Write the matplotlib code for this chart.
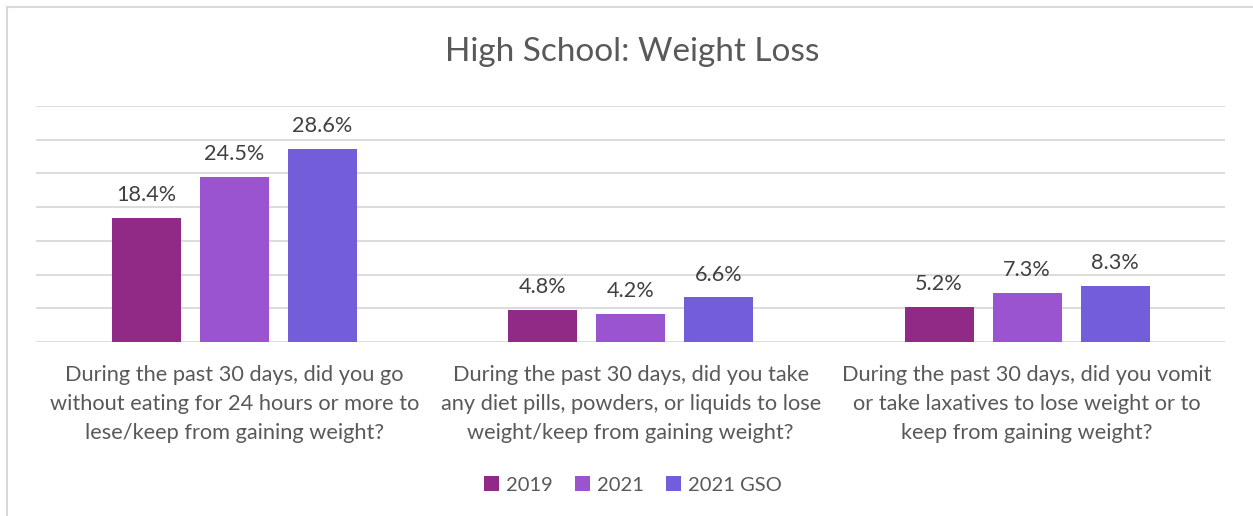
import numpy as np
import matplotlib.pyplot as plt
from matplotlib.patches import Rectangle

categories = [
    "During the past 30 days, did you go\nwithout eating for 24 hours or more to\nlese/keep from gaining weight?",
    "During the past 30 days, did you take\nany diet pills, powders, or liquids to lose\nweight/keep from gaining weight?",
    "During the past 30 days, did you vomit\nor take laxatives to lose weight or to\nkeep from gaining weight?",
]
series = ["2019", "2021", "2021 GSO"]
v2019 = [18.4, 4.8, 5.2]
v2021 = [24.5, 4.2, 7.3]
v2021_gso = [28.6, 6.6, 8.3]
values = [v2019, v2021, v2021_gso]
colors = ["#912987", "#9B54CF", "#745DD9"]

plt.rcParams['font.family'] = ['Lato', 'DejaVu Sans']
text_color = "#595959"

fig = plt.figure(figsize=(12.53, 5.16), dpi=100)
ax = fig.add_axes([0.0287, 0.3372, 0.9493, 0.4574])

x = np.arange(len(categories))
width = 0.174
step = 0.222
for i, (name, vals, c) in enumerate(zip(series, values, colors)):
    pos = x + (i - 1) * step
    bars = ax.bar(pos, vals, width, color=c, label=name, zorder=3)
    for b, v in zip(bars, vals):
        ax.text(b.get_x() + b.get_width() / 2, v + 1.9, f"{v}%",
                ha="center", va="bottom", fontsize=15.6, color="#404040")

ax.set_xlim(-0.5, 2.5)
ax.set_ylim(0, 35)
ax.set_yticks(np.arange(0, 36, 5))
ax.yaxis.grid(True, color="#d9d9d9", linewidth=1.3, zorder=0)
ax.tick_params(axis="y", left=False, labelleft=False)
ax.tick_params(axis="x", bottom=False, pad=13)
ax.set_xticks(x)
ax.set_xticklabels(categories, fontsize=15.7, color=text_color, linespacing=1.55)
for s in ax.spines.values():
    s.set_visible(False)

fig.text(0.5045, 0.9, "High School: Weight Loss", ha="center", va="center",
         fontsize=24, color=text_color)

leg = fig.legend(loc="center", bbox_to_anchor=(0.505, 0.06), ncol=3, frameon=False,
                 fontsize=14.5, handlelength=0.75, handleheight=0.75, handletextpad=0.35,
                 columnspacing=1.1)
for t in leg.get_texts():
    t.set_color(text_color)

fig.patches.append(Rectangle((7 / 1253, -0.1), 1.2, 1 - 7 / 516 + 0.1,
                             transform=fig.transFigure, fill=False,
                             edgecolor="#d9d9d9", linewidth=1.5))

fig.savefig("out.png", dpi=100)
